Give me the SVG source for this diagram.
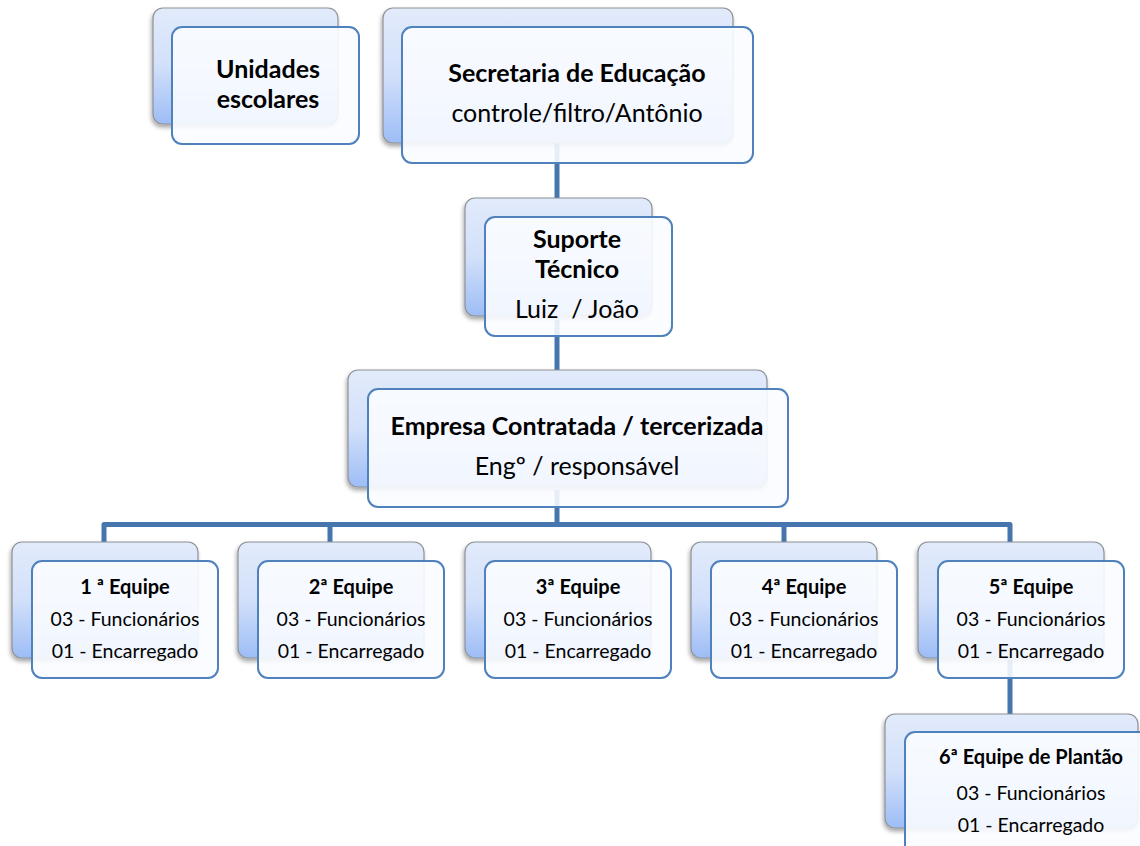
<svg xmlns="http://www.w3.org/2000/svg" width="1140" height="846" viewBox="0 0 1140 846">
<defs>
  <linearGradient id="backGrad" x1="0" y1="0" x2="0" y2="1">
    <stop offset="0" stop-color="#e2ebfb"/>
    <stop offset="0.5" stop-color="#d2e0fa"/>
    <stop offset="1" stop-color="#9dbdf6"/>
  </linearGradient>
  <filter id="shadow" x="-10%" y="-10%" width="125%" height="130%">
    <feDropShadow dx="-1" dy="3" stdDeviation="2" flood-color="#000" flood-opacity="0.35"/>
  </filter>
</defs>
<style>
  .back { fill: url(#backGrad); stroke: #8e9196; stroke-width: 1.2; filter: url(#shadow); }
  .front { fill: #fafcff; fill-opacity: 0.9; stroke: #4f81bd; stroke-width: 2; }
  .conn { fill: none; stroke: #4775ae; stroke-width: 5; stroke-linejoin: round; }
  text { font-family: Lato, "Liberation Sans", sans-serif; fill: #000; text-anchor: middle; white-space: pre; }
  .tb { font-weight: bold; font-size: 25px; }
  .tr { font-size: 25px; }
  .sb { font-weight: bold; font-size: 20px; }
  .sr { font-size: 19.5px; }
</style>
<rect width="1140" height="846" fill="#fff"/>
<g id="connectors">
  <path class="conn" d="M557,140 V200"/>
  <path class="conn" d="M557,320 V372"/>
  <path class="conn" d="M557,490 V524.5"/>
  <path class="conn" d="M104,544 V524.5 H1010 V544"/>
  <path class="conn" d="M330,524.5 V544"/>
  <path class="conn" d="M784,524.5 V544"/>
  <path class="conn" d="M1010,660 V716"/>
</g>
<g id="unidades">
  <rect class="back" x="153" y="8" width="185" height="116" rx="10"/>
  <rect class="front" x="172" y="27" width="187" height="117" rx="10"/>
  <text class="tb" x="268" y="78">Unidades</text>
  <text class="tb" x="268" y="108">escolares</text>
</g>
<g id="secretaria">
  <rect class="back" x="383" y="8" width="350" height="135" rx="10"/>
  <rect class="front" x="402" y="27" width="351" height="136" rx="10"/>
  <text class="tb" x="577" y="82">Secretaria de Educação</text>
  <text class="tr" x="577" y="122">controle/filtro/Antônio</text>
</g>
<g id="suporte">
  <rect class="back" x="465" y="198" width="187" height="118" rx="10"/>
  <rect class="front" x="485" y="217" width="187" height="119" rx="10"/>
  <text class="tb" x="577" y="248">Suporte</text>
  <text class="tb" x="577" y="278">Técnico</text>
  <text class="tr" x="577" y="318">Luiz  / João</text>
</g>
<g id="empresa">
  <rect class="back" x="348" y="370" width="419" height="117" rx="10"/>
  <rect class="front" x="368" y="389" width="420" height="118" rx="10"/>
  <text class="tb" x="577" y="435">Empresa Contratada / tercerizada</text>
  <text class="tr" x="577" y="475">Engº / responsável</text>
</g>
<g id="equipe1">
  <rect class="back" x="12" y="542" width="186" height="116" rx="10"/>
  <rect class="front" x="32" y="561" width="186" height="117" rx="10"/>
  <text class="sb" x="125" y="594">1 ª Equipe</text>
  <text class="sr" x="125" y="626">03 - Funcionários</text>
  <text class="sr" x="125" y="658">01 - Encarregado</text>
</g>
<g id="equipe2">
  <rect class="back" x="238" y="542" width="186" height="116" rx="10"/>
  <rect class="front" x="258" y="561" width="186" height="117" rx="10"/>
  <text class="sb" x="351" y="594">2ª Equipe</text>
  <text class="sr" x="351" y="626">03 - Funcionários</text>
  <text class="sr" x="351" y="658">01 - Encarregado</text>
</g>
<g id="equipe3">
  <rect class="back" x="465" y="542" width="186" height="116" rx="10"/>
  <rect class="front" x="485" y="561" width="186" height="117" rx="10"/>
  <text class="sb" x="578" y="594">3ª Equipe</text>
  <text class="sr" x="578" y="626">03 - Funcionários</text>
  <text class="sr" x="578" y="658">01 - Encarregado</text>
</g>
<g id="equipe4">
  <rect class="back" x="691" y="542" width="186" height="116" rx="10"/>
  <rect class="front" x="711" y="561" width="186" height="117" rx="10"/>
  <text class="sb" x="804" y="594">4ª Equipe</text>
  <text class="sr" x="804" y="626">03 - Funcionários</text>
  <text class="sr" x="804" y="658">01 - Encarregado</text>
</g>
<g id="equipe5">
  <rect class="back" x="918" y="542" width="186" height="116" rx="10"/>
  <rect class="front" x="938" y="561" width="186" height="117" rx="10"/>
  <text class="sb" x="1031" y="594">5ª Equipe</text>
  <text class="sr" x="1031" y="626">03 - Funcionários</text>
  <text class="sr" x="1031" y="658">01 - Encarregado</text>
</g>
<g id="equipe6">
  <rect class="back" x="885" y="714" width="253" height="114" rx="10"/>
  <rect class="front" x="905" y="732" width="260" height="130" rx="10"/>
  <text class="sb" x="1031" y="764">6ª Equipe de Plantão</text>
  <text class="sr" x="1031" y="800">03 - Funcionários</text>
  <text class="sr" x="1031" y="832">01 - Encarregado</text>
</g>
</svg>
